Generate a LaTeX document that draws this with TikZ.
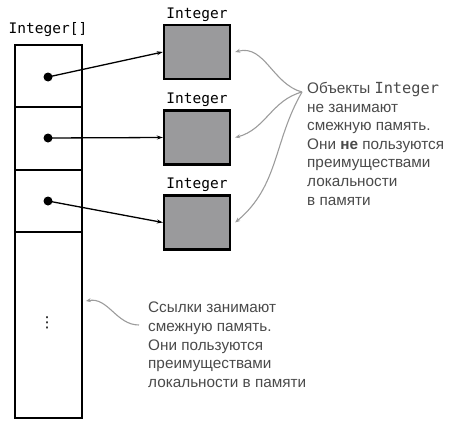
\documentclass[tikz,border=0pt]{standalone}
\usepackage{fontspec}
\setmainfont{Liberation Sans}
\setmonofont{DejaVu Sans Mono}
\newfontfamily\symfont{DejaVu Sans}
\usetikzlibrary{arrows.meta}
\definecolor{boxgray}{HTML}{9A9A9C}
\definecolor{notegray}{HTML}{9C9C9C}
\definecolor{textgray}{HTML}{4A4A4A}
\tikzset{
  cell/.style={draw, line width=1.8pt, minimum width=67pt, inner sep=0pt},
  obj/.style={draw, line width=2.4pt, fill=boxgray, minimum width=66pt, minimum height=54pt, inner sep=0pt},
  ref/.style={draw, line width=1.3pt, -{Stealth[length=6pt,width=4pt]}},
  note/.style={draw=notegray, line width=1.1pt, -{Stealth[length=5pt,width=4pt]}},
  lbl/.style={font=\fontsize{14.5}{16}\ttfamily, inner sep=0pt},
  txt/.style={font=\fontsize{15.3}{18.6}\selectfont, text=textgray, align=left, inner sep=0pt}
}
\begin{document}
\begin{tikzpicture}[x=1pt,y=-1pt]
\useasboundingbox (0,0) rectangle (452,420);

% array of references
\node[cell, minimum height=62pt] (c1) at (48.5,76) {};
\node[cell, minimum height=63pt] (c2) at (48.5,138.5) {};
\node[cell, minimum height=62pt] (c3) at (48.5,201) {};
\node[cell, minimum height=186pt] (c4) at (48.5,325) {};
\node[font=\fontsize{15}{16}\symfont, inner sep=0pt] (more) at (47,323) {⋮};
\node[lbl] (arr) at (48,30) {Integer[]};

\node[circle, fill=black, inner sep=0pt, minimum size=9pt] (d1) at (48,77) {};
\node[circle, fill=black, inner sep=0pt, minimum size=9pt] (d2) at (48,138) {};
\node[circle, fill=black, inner sep=0pt, minimum size=9pt] (d3) at (48,201) {};

% Integer objects
\node[obj] (o1) at (197,52) {};
\node[obj] (o2) at (197,137.5) {};
\node[obj] (o3) at (197,222.5) {};
\node[lbl] (l1) at (197,15) {Integer};
\node[lbl] (l2) at (197,100) {Integer};
\node[lbl] (l3) at (197,185) {Integer};

\path[ref] (d1.center) -- (o1.west);
\path[ref] (d2.center) -- (o2.west);
\path[ref] (d3.center) -- (o3.west);

% notes
\node[txt, anchor=north west] (objnote) at (307,82) {Объекты \texttt{Integer}\\не занимают\\смежную память.\\Они \textbf{не} пользуются\\преимуществами\\локальности\\в памяти};
\node[txt, anchor=north west] (refnote) at (148,302) {Ссылки занимают\\смежную память.\\Они пользуются\\преимуществами\\локальности в памяти};

\coordinate (objtip) at (302,92);
\coordinate (reftip) at (139,325);

\path[note] (objtip) to[out=165,in=15] ([xshift=4pt]o1.east);
\path[note] (objtip) to[out=195,in=15] ([xshift=4pt]o2.east);
\path[note] (objtip) to[out=240,in=40] ([xshift=4pt]o3.east);
\path[note] (reftip) to[out=180,in=10] ([xshift=3pt]c4.east |- 0,301);
\end{tikzpicture}
\end{document}
